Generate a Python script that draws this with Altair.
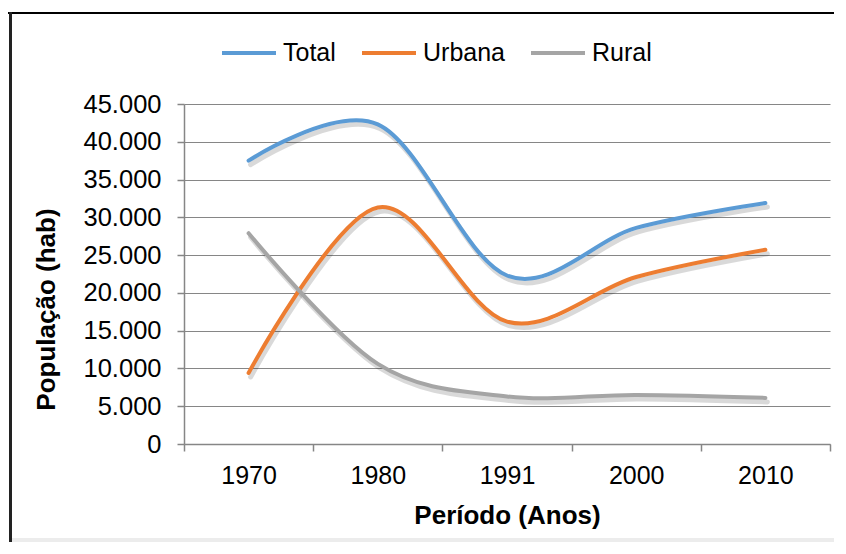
import altair as alt
import pandas as pd

years = ["1970", "1980", "1991", "2000", "2010"]
total = [37500, 42300, 22300, 28600, 31900]
urbana = [9400, 31300, 16200, 22100, 25700]
rural = [27900, 10600, 6300, 6500, 6100]
series = ["Total", "Urbana", "Rural"]
colors = ["#5B9BD5", "#ED7D31", "#A5A5A5"]
y_ticks = [0, 5000, 10000, 15000, 20000, 25000, 30000, 35000, 40000, 45000]

rows = []
for name, vals in zip(series, [total, urbana, rural]):
    for yr, v in zip(years, vals):
        rows.append({"Ano": yr, "Pop": v, "Serie": name})
df = pd.DataFrame(rows)

FONT = "Arial, Liberation Sans, sans-serif"
AXIS_GRAY = "#868686"

x_enc = alt.X(
    "Ano:N",
    sort=years,
    bandPosition=0.5,
    scale=alt.Scale(type="band", paddingInner=0, paddingOuter=0),
    axis=alt.Axis(
        title="Período (Anos)",
        labelAngle=0,
        tickBand="extent",
        grid=False,
        labelFontSize=25,
        labelPadding=12,
        tickSize=7,
        titleFontSize=26,
        titlePadding=14,
    ),
)
y_enc = alt.Y(
    "Pop:Q",
    scale=alt.Scale(domain=[0, 45000], nice=False),
    axis=alt.Axis(
        title="População (hab)",
        values=y_ticks,
        labelExpr="replace(format(datum.value, ','), ',', '.')",
        labelFontSize=25.5,
        labelPadding=16,
        tickSize=7,
        grid=True,
        titleFontSize=26,
        titlePadding=24,
        titleY=205,
    ),
)

base = alt.Chart(df)

shadow = base.mark_line(
    interpolate="cardinal", tension=0, strokeWidth=5, color="#000000",
    opacity=0.15, xOffset=2, yOffset=4, strokeCap="round",
).encode(x=x_enc, y=y_enc, detail="Serie:N")

lines = base.mark_line(
    interpolate="cardinal", tension=0, strokeWidth=4, strokeCap="round",
).encode(
    x=x_enc,
    y=y_enc,
    color=alt.Color(
        "Serie:N",
        scale=alt.Scale(domain=series, range=colors),
        legend=alt.Legend(
            title=None,
            orient="none",
            direction="horizontal",
            legendX=36,
            legendY=-80,
            symbolType="stroke",
            symbolSize=2916,
            symbolStrokeWidth=4,
            labelFontSize=25,
            labelOffset=5,
            columnPadding=18,
            labelFont=FONT,
            labelColor="black",
        ),
    ),
)

frame_df = pd.DataFrame({"k": [0]})
top_border = alt.Chart(frame_df).mark_rect(color="black", strokeWidth=0).encode(
    x=alt.value(-176), x2=alt.value(650), y=alt.value(-92), y2=alt.value(-90)
)
left_border = alt.Chart(frame_df).mark_rect(color="#222222", strokeWidth=0).encode(
    x=alt.value(-175), x2=alt.value(-172), y=alt.value(-92), y2=alt.value(438)
)
bottom_band = alt.Chart(frame_df).mark_rect(color="#ececec", strokeWidth=0).encode(
    x=alt.value(-172), x2=alt.value(650), y=alt.value(434), y2=alt.value(438)
)

chart = alt.layer(shadow, lines, top_border, left_border, bottom_band).properties(
    width=646,
    height=340,
    padding={"left": 176, "top": 96, "right": 4, "bottom": 98},
    autosize=alt.AutoSizeParams(type="none"),
    background="white",
).configure_view(stroke=None).configure_axis(
    labelFont=FONT,
    titleFont=FONT,
    labelColor="black",
    titleColor="black",
    titleFontWeight="bold",
    domainColor=AXIS_GRAY,
    tickColor=AXIS_GRAY,
    gridColor=AXIS_GRAY,
    domainWidth=1.5,
    tickWidth=1.5,
    gridWidth=1.2,
)

chart.save("out.html", embed_options={"renderer": "svg", "actions": False})
